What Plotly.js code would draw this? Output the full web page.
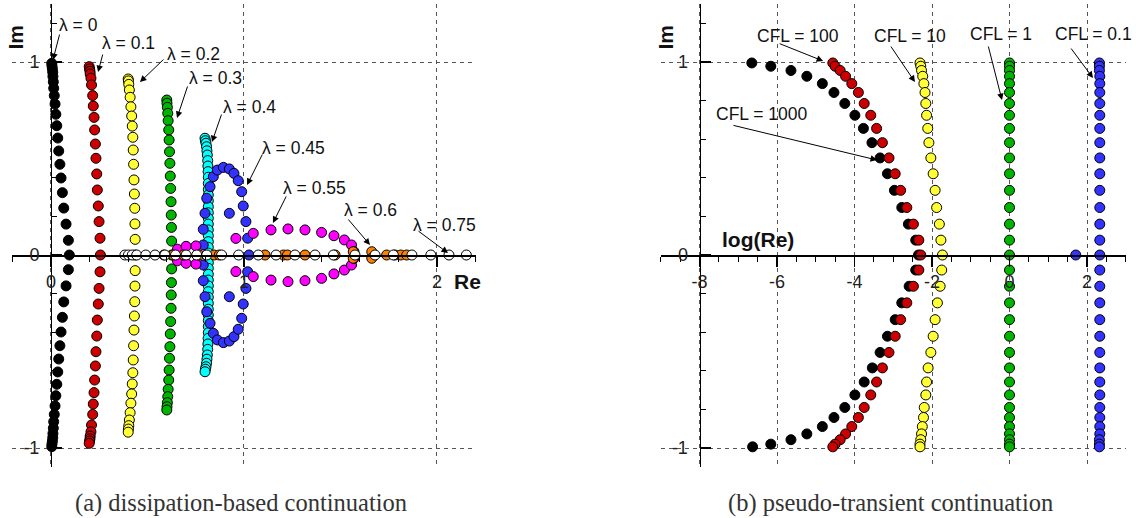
<!DOCTYPE html>
<html><head><meta charset="utf-8">
<script src="https://cdn.plot.ly/plotly-3.0.1.min.js"></script>
<style>html,body{margin:0;padding:0;background:#fff}#chart{width:1136px;height:518px}</style>
</head><body><div id="chart"></div>
<script>
// ---------- Panel (a): dissipation-based continuation ----------
const lam0Re = [0.004,0.005,0.007,0.009,0.010,0.012,0.014,0.017,0.021,0.025,0.030,0.035,0.040,0.046,0.052,0.059,0.066,0.078,0.090,0.095,0.090,0.078,0.066,0.059,0.052,0.046,0.040,0.035,0.030,0.025,0.021,0.017,0.014,0.012,0.010,0.009,0.007,0.005,0.004];
const lam0Im = [0.993,0.980,0.965,0.947,0.925,0.897,0.864,0.826,0.782,0.729,0.670,0.606,0.539,0.470,0.399,0.323,0.243,0.160,0.076,0,-0.076,-0.160,-0.243,-0.323,-0.399,-0.470,-0.539,-0.606,-0.670,-0.729,-0.782,-0.826,-0.864,-0.897,-0.925,-0.947,-0.965,-0.980,-0.993];

const lam01Re = [0.198,0.200,0.202,0.203,0.207,0.210,0.216,0.219,0.223,0.226,0.230,0.233,0.237,0.240,0.245,0.249,0.254,0.256,0.254,0.249,0.245,0.240,0.237,0.233,0.230,0.226,0.223,0.219,0.216,0.210,0.207,0.203,0.202,0.200,0.198];
const lam01Im = [0.976,0.964,0.952,0.938,0.916,0.881,0.826,0.772,0.713,0.648,0.575,0.501,0.420,0.337,0.254,0.173,0.087,0,-0.087,-0.173,-0.254,-0.337,-0.420,-0.501,-0.575,-0.648,-0.713,-0.772,-0.826,-0.881,-0.916,-0.938,-0.952,-0.964,-0.976];

const lam02Re = [0.400,0.401,0.403,0.406,0.410,0.414,0.418,0.421,0.424,0.426,0.428,0.430,0.432,0.434,0.435,0.436,0.436,0.436,0.435,0.434,0.432,0.430,0.428,0.426,0.424,0.421,0.418,0.414,0.410,0.406,0.403,0.401,0.400];
const lam02Im = [0.912,0.902,0.884,0.855,0.817,0.768,0.720,0.668,0.610,0.544,0.470,0.389,0.316,0.242,0.161,0.081,0,-0.081,-0.161,-0.242,-0.316,-0.389,-0.470,-0.544,-0.610,-0.668,-0.720,-0.768,-0.817,-0.855,-0.884,-0.902,-0.918];

const lam03Re = [0.600,0.601,0.603,0.605,0.607,0.610,0.612,0.614,0.616,0.618,0.620,0.622,0.623,0.624,0.625,0.625,0.625,0.624,0.623,0.622,0.620,0.618,0.616,0.614,0.612,0.610,0.607,0.605,0.603,0.601,0.600];
const lam03Im = [0.803,0.786,0.765,0.734,0.696,0.648,0.596,0.535,0.475,0.409,0.345,0.276,0.207,0.143,0.072,0,-0.072,-0.143,-0.207,-0.276,-0.345,-0.409,-0.475,-0.535,-0.596,-0.648,-0.696,-0.734,-0.765,-0.786,-0.803];

const lam04Re = [0.798,0.800,0.803,0.806,0.808,0.810,0.812,0.813,0.814,0.815,0.815,0.815,0.815,0.815,0.815,0.815,0.815,0.815,0.815,0.815,0.815,0.815,0.815,0.815,0.815,0.815,0.815,0.815,0.815,0.815,0.815,0.815,0.815,0.815,0.815,0.815,0.815,0.814,0.813,0.812,0.810,0.808,0.806,0.803,0.800,0.798];
const lam04Im = [0.605,0.592,0.579,0.561,0.540,0.518,0.489,0.461,0.432,0.403,0.371,0.340,0.311,0.281,0.250,0.219,0.190,0.160,0.130,0.100,0.069,0.040,0.010,-0.010,-0.040,-0.069,-0.100,-0.130,-0.160,-0.190,-0.219,-0.250,-0.281,-0.311,-0.340,-0.371,-0.403,-0.432,-0.461,-0.489,-0.518,-0.540,-0.561,-0.579,-0.592,-0.605];

const lam045Re = [0.789,0.789,0.798,0.807,0.824,0.841,0.862,0.893,0.924,0.948,0.970,0.988,0.996,1.010,1.019,0.924,1.026,0.789,0.789,0.798,0.807,0.824,0.841,0.862,0.893,0.924,0.948,0.970,0.988,0.996,1.010,1.019,0.924];
const lam045Im = [0.052,0.133,0.216,0.294,0.354,0.406,0.440,0.454,0.446,0.423,0.385,0.328,0.254,0.173,0.087,0.216,0,-0.052,-0.133,-0.216,-0.294,-0.354,-0.406,-0.440,-0.454,-0.446,-0.423,-0.385,-0.328,-0.254,-0.173,-0.087,-0.216];

const lam055Re = [0.655,0.700,0.751,0.958,1.048,1.140,1.228,1.316,1.402,1.466,1.520,1.557,1.570,0.655,0.700,0.751,0.958,1.048,1.140,1.228,1.316,1.402,1.466,1.520,1.557,1.570];
const lam055Im = [0.030,0.045,0.047,0.086,0.112,0.130,0.135,0.130,0.117,0.100,0.078,0.052,0.017,-0.030,-0.043,-0.047,-0.086,-0.112,-0.130,-0.138,-0.133,-0.121,-0.098,-0.078,-0.052,-0.017];

const lam06Re = [0.585,0.632,0.686,0.768,0.845,0.872,1.109,1.204,1.225,1.316,1.472,1.566,1.566,1.662,1.662,1.739,1.782,1.812,1.843];
const lam06Im = [0,0,0,0,0,0,0,0,0,0,0,0.017,-0.017,0.017,-0.017,0,0,0,0];

const lam075Re = [0.383,0.401,0.421,0.444,0.491,0.539,0.590,0.645,0.700,0.755,0.807,0.884,0.972,1.074,1.166,1.264,1.368,1.463,1.575,1.679,1.774,1.870,1.968,2.062,2.152];
const lam075Im = [0,0,0,0,0,0,0,0,0,0,0,0,0,0,0,0,0,0,0,0,0,0,0,0,0];

const lamLabels = ['λ = 0','λ = 0.1','λ = 0.2','λ = 0.3','λ = 0.4','λ = 0.45','λ = 0.55','λ = 0.6','λ = 0.75'];

// ---------- Panel (b): pseudo-transient continuation ----------
const imB = [0.995,0.978,0.956,0.926,0.888,0.842,0.785,0.724,0.656,0.582,0.503,0.421,0.335,0.246,0.160,0.077,0,-0.078,-0.162,-0.248,-0.335,-0.421,-0.505,-0.585,-0.658,-0.725,-0.790,-0.842,-0.889,-0.927,-0.957,-0.980,-0.994];
const cfl1000 = [-6.65,-6.16,-5.64,-5.23,-4.83,-4.53,-4.25,-3.99,-3.77,-3.55,-3.34,-3.15,-2.97,-2.78,-2.61,-2.42,-2.35,-2.42,-2.59,-2.78,-2.95,-3.15,-3.34,-3.54,-3.75,-3.99,-4.25,-4.53,-4.83,-5.23,-5.64,-6.16,-6.63];
const cfl100 = [-4.56,-4.50,-4.37,-4.23,-4.07,-3.90,-3.75,-3.58,-3.43,-3.28,-3.11,-2.95,-2.81,-2.65,-2.48,-2.34,-2.29,-2.34,-2.48,-2.65,-2.81,-2.95,-3.11,-3.28,-3.43,-3.58,-3.75,-3.90,-4.07,-4.23,-4.37,-4.50,-4.56];
const cfl10 = [-2.31,-2.29,-2.27,-2.24,-2.21,-2.18,-2.16,-2.14,-2.11,-2.08,-2.03,-1.97,-1.92,-1.88,-1.81,-1.77,-1.73,-1.75,-1.79,-1.86,-1.92,-1.97,-2.03,-2.10,-2.14,-2.16,-2.20,-2.22,-2.25,-2.27,-2.29,-2.31,-2.31];
const cfl1 = [0,0,0,0,0,0,0,0,0,0,0,0,0,0,0,0,0,0,0,0,0,0,0,0,0,0,0,0,0,0,0,0,0];
const cfl01 = [2.32,2.32,2.32,2.33,2.33,2.33,2.33,2.33,2.33,2.33,2.33,2.33,2.33,2.33,2.33,2.33,2.33,2.33,2.33,2.33,2.33,2.33,2.33,2.33,2.33,2.33,2.33,2.33,2.33,2.33,2.32,2.32,2.32];
const cfl01ExtraRe = [1.71];
const cfl01ExtraIm = [0];
const cflLabels = ['CFL = 1000','CFL = 100','CFL = 10','CFL = 1','CFL = 0.1'];

// ---------- tick labels ----------
const xTickValsA = [0, 1, 2];
const xTickTextA = ['0', '1', '2'];
const xTickValsB = [-8, -6, -4, -2, 0, 2];
const xTickTextB = ['-8', '-6', '-4', '-2', '0', '2'];
const yTickVals = [-1, 0, 1];
const yTickText = ['-1', '0', '1'];

// ---------- styling ----------
const FONT = 'Liberation Sans, Arial, sans-serif';
const SERIF = 'Liberation Serif, Times New Roman, serif';
const COL = {black:'#000000', red:'#cc0000', yellow:'#ffff33', green:'#00b400', cyan:'#00ffff', blue:'#3333ff', magenta:'#ff00ff', orange:'#ff8000', white:'#ffffff'};

function mk(x, y, color, xa, ya) {
  return {type:'scatter', mode:'markers', x:x, y:y, xaxis:xa, yaxis:ya, hoverinfo:'skip',
    marker:{size:10, color:color, line:{color:'#000', width:1}}};
}

const traces = [
  mk(lam0Re, lam0Im, COL.black, 'x', 'y'),
  mk(lam01Re, lam01Im, COL.red, 'x', 'y'),
  mk(lam02Re, lam02Im, COL.yellow, 'x', 'y'),
  mk(lam03Re, lam03Im, COL.green, 'x', 'y'),
  mk(lam04Re, lam04Im, COL.cyan, 'x', 'y'),
  mk(lam045Re, lam045Im, COL.blue, 'x', 'y'),
  mk(lam055Re, lam055Im, COL.magenta, 'x', 'y'),
  mk(lam06Re, lam06Im, COL.orange, 'x', 'y'),
  mk(lam075Re, lam075Im, COL.white, 'x', 'y'),
  mk(cfl1000, imB, COL.black, 'x2', 'y2'),
  mk(cfl100, imB, COL.red, 'x2', 'y2'),
  mk(cfl10, imB, COL.yellow, 'x2', 'y2'),
  mk(cfl1, imB, COL.green, 'x2', 'y2'),
  mk(cfl01, imB, COL.blue, 'x2', 'y2'),
  mk(cfl01ExtraRe, cfl01ExtraIm, COL.blue, 'x2', 'y2')
];

const yRange = [-1.1, 1.3];
const yDom = [0.09788, 0.99208];
const xRangeA = [-0.2, 2.2], xDomA = [0.010915, 0.418662];
const xRangeB = [-9, 3], xDomB = [0.58165, 0.99098];
function frac(range, dom, v) { return dom[0] + (v - range[0]) / (range[1] - range[0]) * (dom[1] - dom[0]); }
const xAxisPos = frac(yRange, yDom, 0);

function xAx(range, dom, vals, text, minor) {
  return {range:range, domain:dom, anchor:'free', position:xAxisPos, showline:true, linecolor:'#000', linewidth:1.5,
    ticks:'outside', ticklen:10, tickwidth:1.5, tickcolor:'#000', tickmode:'array', tickvals:vals, ticktext:text,
    minor:{tick0:0, dtick:minor, ticks:'outside', ticklen:5, tickwidth:1, tickcolor:'#000', showgrid:false},
    showgrid:true, gridcolor:'#555', gridwidth:1, griddash:'4px,4px', zeroline:false,
    tickfont:{family:FONT, size:18, color:'#222'}, fixedrange:true, automargin:false};
}
function yAx(pos) {
  return {range:yRange, domain:yDom, anchor:'free', position:pos, showline:true, linecolor:'#000', linewidth:1.5,
    ticks:'inside', ticklen:10, tickwidth:1.5, tickcolor:'#000', tickmode:'array', tickvals:yTickVals, ticktext:yTickText,
    ticklabelstandoff:8,
    minor:{tick0:0, dtick:0.2, ticks:'inside', ticklen:5, tickwidth:1, tickcolor:'#000', showgrid:false},
    showgrid:true, gridcolor:'#555', gridwidth:1, griddash:'4px,4px', zeroline:false,
    tickfont:{family:FONT, size:18, color:'#222'}, fixedrange:true, automargin:false};
}

function lab(txt, xa, ya, x, y) {
  return {xref:xa, yref:ya, x:x, y:y, text:txt, showarrow:false, xanchor:'center', yanchor:'middle',
    font:{family:FONT, size:17.5, color:'#111'}};
}
function arr(xa, ya, x, y, ax, ay) {
  return {xref:xa, yref:ya, x:x, y:y, text:'', showarrow:true, arrowhead:2, arrowsize:1.3, arrowwidth:1,
    arrowcolor:'#000', ax:ax, ay:ay, axref:'pixel', ayref:'pixel', standoff:0, startstandoff:0};
}
function ttl(txt, x, y, angle) {
  return {xref:'paper', yref:'paper', x:x, y:y, text:'<b>'+txt+'</b>', showarrow:false, textangle:angle||0,
    xanchor:'center', yanchor:'middle', font:{family:FONT, size:21, color:'#111'}};
}

const annotations = [
  lab(lamLabels[0],'x','y',0.140,1.192), arr('x','y',0.010,1.010,7,-27),
  lab(lamLabels[1],'x','y',0.399,1.098), arr('x','y',0.244,0.948,5,-19),
  lab(lamLabels[2],'x','y',0.736,1.041), arr('x','y',0.461,0.896,25,-24),
  lab(lamLabels[3],'x','y',0.850,0.917), arr('x','y',0.653,0.710,11,-33),
  lab(lamLabels[4],'x','y',1.031,0.767), arr('x','y',0.834,0.585,10,-29),
  lab(lamLabels[5],'x','y',1.254,0.554), arr('x','y',1.016,0.363,16,-32),
  lab(lamLabels[6],'x','y',1.363,0.347), arr('x','y',1.150,0.166,14,-28),
  lab(lamLabels[7],'x','y',1.653,0.233), arr('x','y',1.653,0.052,-23,-27),
  lab(lamLabels[8],'x','y',2.041,0.155), arr('x','y',2.057,0.010,-31,-23),
  lab(cflLabels[0],'x2','y2',-6.40,0.729), arr('x2','y2',-3.42,0.492,-145,-35),
  lab(cflLabels[1],'x2','y2',-5.46,1.135), arr('x2','y2',-4.81,1.005,-45,-18),
  lab(cflLabels[2],'x2','y2',-2.57,1.135), arr('x2','y2',-2.44,0.896,-25,-37),
  lab(cflLabels[3],'x2','y2',-0.22,1.145), arr('x2','y2',-0.194,0.803,-14,-55),
  lab(cflLabels[4],'x2','y2',2.155,1.145), arr('x2','y2',2.155,0.917,-23,-31),
  ttl('Im', 15/1136, 1-37.5/518, -90),
  ttl('Im', 665/1136, 1-37.5/518, -90),
  ttl('Re', 467/1136, 1-281/518, 0),
  ttl('log(Re)', 757.5/1136, 1-239/518, 0),
  {xref:'paper', yref:'paper', x:241/1136, y:1-503/518, text:'(a) dissipation-based continuation', showarrow:false,
   xanchor:'center', yanchor:'middle', font:{family:SERIF, size:24.5, color:'#333'}},
  {xref:'paper', yref:'paper', x:890/1136, y:1-503/518, text:'(b) pseudo-transient continuation', showarrow:false,
   xanchor:'center', yanchor:'middle', font:{family:SERIF, size:24.5, color:'#333'}}
];

const layout = {
  width:1136, height:518, margin:{l:0, r:0, t:0, b:0, pad:0},
  paper_bgcolor:'#fff', plot_bgcolor:'rgba(0,0,0,0)', showlegend:false,
  font:{family:FONT, color:'#111'},
  xaxis: xAx(xRangeA, xDomA, xTickValsA, xTickTextA, 0.2),
  yaxis: yAx(frac(xRangeA, xDomA, 0)),
  xaxis2: xAx(xRangeB, xDomB, xTickValsB, xTickTextB, 0.5),
  yaxis2: yAx(frac(xRangeB, xDomB, -8)),
  annotations: annotations
};

Plotly.newPlot('chart', traces, layout, {staticPlot:true, displayModeBar:false});
</script>
</body></html>
